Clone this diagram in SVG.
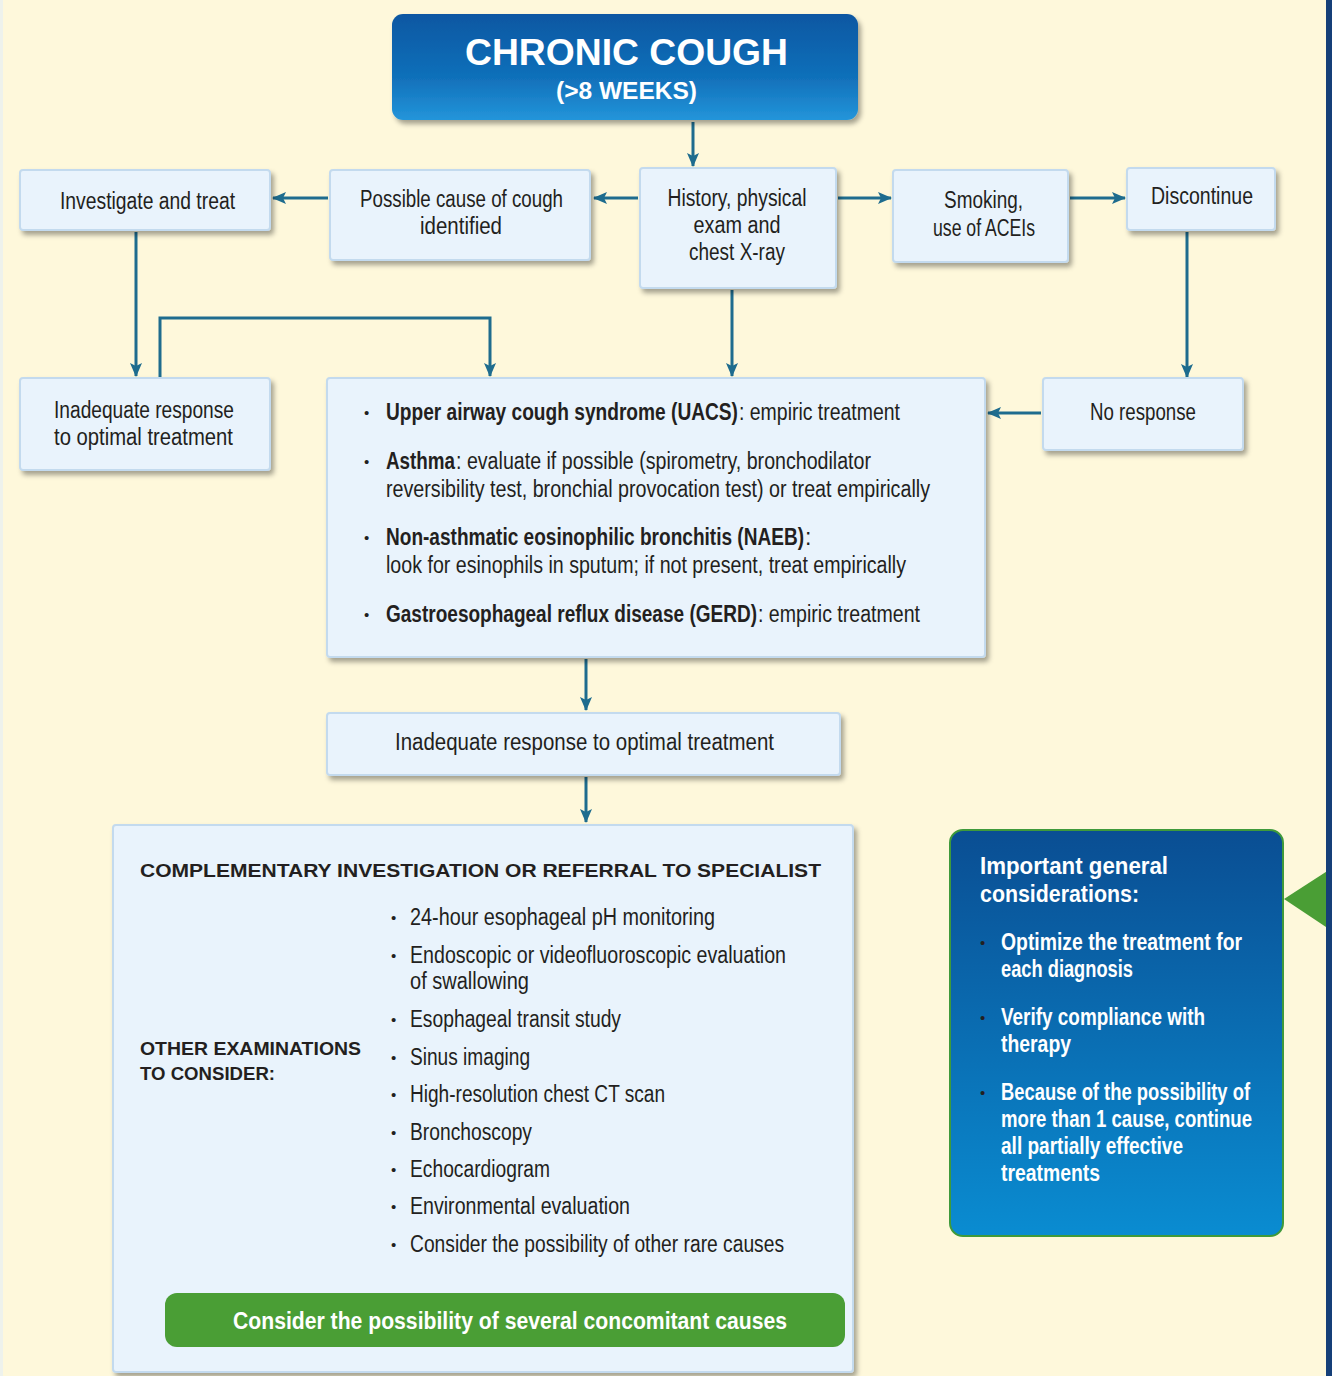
<svg xmlns="http://www.w3.org/2000/svg" width="1332" height="1376" viewBox="0 0 1332 1376">
<defs>
<filter id="sh" x="-10%" y="-10%" width="125%" height="135%">
<feDropShadow dx="3" dy="4" stdDeviation="2.5" flood-color="#000" flood-opacity="0.35"/>
</filter>
<linearGradient id="gTitle" x1="0" y1="0" x2="0" y2="1">
<stop offset="0" stop-color="#0A57A2"/>
<stop offset="0.6" stop-color="#1170BA"/>
<stop offset="1" stop-color="#2395DA"/>
</linearGradient>
<linearGradient id="gBlue" x1="0" y1="0" x2="0" y2="1">
<stop offset="0" stop-color="#0A4E93"/>
<stop offset="1" stop-color="#0A8CD1"/>
</linearGradient>
<marker id="ah" markerWidth="14" markerHeight="12" refX="13" refY="6" orient="auto" markerUnits="userSpaceOnUse">
<path d="M0,0 L14,6 L0,12 L3,6 z" fill="#1E6C8E"/>
</marker>
<style>
.box{fill:#E9F3FC;stroke:#C3DAEE;stroke-width:2;filter:url(#sh)}
.t{font-family:'Liberation Sans Narrow','Liberation Sans',Arial,sans-serif;font-size:23px;fill:#231F20}
.h{font-family:'Liberation Sans',Arial,sans-serif;font-weight:bold;fill:#231F20}
.c{text-anchor:middle}
.b{font-weight:bold}
.w{fill:#FFFFFF}
.bul{font-family:'Liberation Sans',Arial,sans-serif;font-size:15px;fill:#231F20}
.conn{stroke:#1E6C8E;stroke-width:3;fill:none;marker-end:url(#ah)}
</style>
</defs>
<rect x="0" y="0" width="1332" height="1376" fill="#FEF8DB"/>
<rect x="0" y="0" width="3" height="1376" fill="#EEF2EC"/>
<polygon points="1284,899 1332,868 1332,931" fill="#4A9E35"/>
<rect x="1326" y="0" width="6" height="1376" fill="#153F78"/>

<g id="connectors">
<line class="conn" x1="693" y1="122" x2="693" y2="166"/>
<line class="conn" x1="638" y1="198" x2="594" y2="198"/>
<line class="conn" x1="328" y1="198" x2="273" y2="198"/>
<line class="conn" x1="838" y1="198" x2="891" y2="198"/>
<line class="conn" x1="1070" y1="198" x2="1125" y2="198"/>
<line class="conn" x1="1187" y1="232" x2="1187" y2="377"/>
<line class="conn" x1="1041" y1="413" x2="988" y2="413"/>
<line class="conn" x1="136" y1="232" x2="136" y2="376"/>
<polyline class="conn" points="160,378 160,318 490,318 490,376"/>
<line class="conn" x1="732" y1="290" x2="732" y2="376"/>
<line class="conn" x1="586" y1="659" x2="586" y2="710"/>
<line class="conn" x1="586" y1="777" x2="586" y2="822"/>
</g>

<g id="title">
<rect x="392" y="14" width="466" height="106" rx="11" fill="url(#gTitle)" filter="url(#sh)"/>
<text class="h w c" x="626.5" y="65" font-size="37" textLength="323" lengthAdjust="spacingAndGlyphs">CHRONIC COUGH</text>
<text class="h w c" x="626.5" y="99" font-size="24" textLength="141" lengthAdjust="spacingAndGlyphs">(&gt;8 WEEKS)</text>
</g>

<g id="history">
<rect class="box" x="640" y="168" width="196" height="120" rx="3"/>
<text class="t c" x="737" y="206" textLength="139" lengthAdjust="spacingAndGlyphs">History, physical</text>
<text class="t c" x="737" y="233" textLength="87" lengthAdjust="spacingAndGlyphs">exam and</text>
<text class="t c" x="737" y="260" textLength="96" lengthAdjust="spacingAndGlyphs">chest X-ray</text>
</g>

<g id="possible-cause">
<rect class="box" x="330" y="170" width="260" height="90" rx="3"/>
<text class="t c" x="461.5" y="207" textLength="203" lengthAdjust="spacingAndGlyphs">Possible cause of cough</text>
<text class="t c" x="461" y="234" textLength="82" lengthAdjust="spacingAndGlyphs">identified</text>
</g>

<g id="investigate">
<rect class="box" x="20" y="170" width="250" height="60" rx="3"/>
<text class="t c" x="147.5" y="209" textLength="175" lengthAdjust="spacingAndGlyphs">Investigate and treat</text>
</g>

<g id="smoking">
<rect class="box" x="893" y="170" width="175" height="92" rx="3"/>
<text class="t c" x="983.5" y="208" textLength="79" lengthAdjust="spacingAndGlyphs">Smoking,</text>
<text class="t c" x="984" y="236" textLength="102" lengthAdjust="spacingAndGlyphs">use of ACEIs</text>
</g>

<g id="discontinue">
<rect class="box" x="1127" y="168" width="148" height="62" rx="3"/>
<text class="t c" x="1202" y="204" textLength="102" lengthAdjust="spacingAndGlyphs">Discontinue</text>
</g>

<g id="no-response">
<rect class="box" x="1043" y="378" width="200" height="72" rx="3"/>
<text class="t c" x="1143" y="420" textLength="106" lengthAdjust="spacingAndGlyphs">No response</text>
</g>

<g id="inadequate-left">
<rect class="box" x="20" y="378" width="250" height="92" rx="3"/>
<text class="t c" x="144" y="418" textLength="180" lengthAdjust="spacingAndGlyphs">Inadequate response</text>
<text class="t c" x="143.5" y="445" textLength="179" lengthAdjust="spacingAndGlyphs">to optimal treatment</text>
</g>

<g id="diagnoses">
<rect class="box" x="327" y="378" width="658" height="279" rx="3"/>
<text class="bul" x="364" y="418">•</text>
<text class="t b" x="386" y="420" textLength="352" lengthAdjust="spacingAndGlyphs">Upper airway cough syndrome (UACS)</text>
<text class="t" x="739" y="420" textLength="161" lengthAdjust="spacingAndGlyphs">: empiric treatment</text>
<text class="bul" x="364" y="467">•</text>
<text class="t b" x="386" y="469" textLength="69" lengthAdjust="spacingAndGlyphs">Asthma</text>
<text class="t" x="456" y="469" textLength="415" lengthAdjust="spacingAndGlyphs">: evaluate if possible (spirometry, bronchodilator</text>
<text class="t" x="386" y="497" textLength="544" lengthAdjust="spacingAndGlyphs">reversibility test, bronchial provocation test) or treat empirically</text>
<text class="bul" x="364" y="543">•</text>
<text class="t b" x="386" y="545" textLength="418" lengthAdjust="spacingAndGlyphs">Non-asthmatic eosinophilic bronchitis (NAEB)</text>
<text class="t" x="805" y="545">:</text>
<text class="t" x="386" y="573" textLength="520" lengthAdjust="spacingAndGlyphs">look for esinophils in sputum; if not present, treat empirically</text>
<text class="bul" x="364" y="620">•</text>
<text class="t b" x="386" y="622" textLength="371" lengthAdjust="spacingAndGlyphs">Gastroesophageal reflux disease (GERD)</text>
<text class="t" x="758" y="622" textLength="162" lengthAdjust="spacingAndGlyphs">: empiric treatment</text>
</g>

<g id="inadequate-middle">
<rect class="box" x="327" y="713" width="513" height="62" rx="3"/>
<text class="t c" x="584.5" y="750" textLength="379" lengthAdjust="spacingAndGlyphs">Inadequate response to optimal treatment</text>
</g>

<g id="complementary">
<rect class="box" x="113" y="825" width="740" height="547" rx="3"/>
<text class="h" x="140" y="877" font-size="19" textLength="681" lengthAdjust="spacingAndGlyphs">COMPLEMENTARY INVESTIGATION OR REFERRAL TO SPECIALIST</text>
<text class="h" x="140" y="1055" font-size="19" textLength="221" lengthAdjust="spacingAndGlyphs">OTHER EXAMINATIONS</text>
<text class="h" x="140" y="1080" font-size="19" textLength="135" lengthAdjust="spacingAndGlyphs">TO CONSIDER:</text>
<text class="bul" x="391" y="923">•</text>
<text class="t" x="410" y="925" textLength="305" lengthAdjust="spacingAndGlyphs">24-hour esophageal pH monitoring</text>
<text class="bul" x="391" y="961">•</text>
<text class="t" x="410" y="963" textLength="376" lengthAdjust="spacingAndGlyphs">Endoscopic or videofluoroscopic evaluation</text>
<text class="t" x="410" y="989" textLength="119" lengthAdjust="spacingAndGlyphs">of swallowing</text>
<text class="bul" x="391" y="1025">•</text>
<text class="t" x="410" y="1027" textLength="211" lengthAdjust="spacingAndGlyphs">Esophageal transit study</text>
<text class="bul" x="391" y="1063">•</text>
<text class="t" x="410" y="1065" textLength="120" lengthAdjust="spacingAndGlyphs">Sinus imaging</text>
<text class="bul" x="391" y="1100">•</text>
<text class="t" x="410" y="1102" textLength="255" lengthAdjust="spacingAndGlyphs">High-resolution chest CT scan</text>
<text class="bul" x="391" y="1138">•</text>
<text class="t" x="410" y="1140" textLength="122" lengthAdjust="spacingAndGlyphs">Bronchoscopy</text>
<text class="bul" x="391" y="1175">•</text>
<text class="t" x="410" y="1177" textLength="140" lengthAdjust="spacingAndGlyphs">Echocardiogram</text>
<text class="bul" x="391" y="1212">•</text>
<text class="t" x="410" y="1214" textLength="220" lengthAdjust="spacingAndGlyphs">Environmental evaluation</text>
<text class="bul" x="391" y="1250">•</text>
<text class="t" x="410" y="1252" textLength="374" lengthAdjust="spacingAndGlyphs">Consider the possibility of other rare causes</text>
</g>

<g id="concomitant">
<rect x="165" y="1293" width="680" height="54" rx="12" fill="#4A9E35"/>
<text class="t b w c" x="510" y="1329" textLength="554" lengthAdjust="spacingAndGlyphs">Consider the possibility of several concomitant causes</text>
</g>

<g id="considerations">
<rect x="950" y="830" width="333" height="406" rx="13" fill="url(#gBlue)" stroke="#3F9A3B" stroke-width="2"/>
<text class="t b w" x="980" y="874" textLength="188" lengthAdjust="spacingAndGlyphs">Important general</text>
<text class="t b w" x="980" y="902" textLength="159" lengthAdjust="spacingAndGlyphs">considerations:</text>
<text class="bul w" x="980" y="948">•</text>
<text class="t b w" x="1001" y="950" textLength="241" lengthAdjust="spacingAndGlyphs">Optimize the treatment for</text>
<text class="t b w" x="1001" y="977" textLength="132" lengthAdjust="spacingAndGlyphs">each diagnosis</text>
<text class="bul w" x="980" y="1023">•</text>
<text class="t b w" x="1001" y="1025" textLength="204" lengthAdjust="spacingAndGlyphs">Verify compliance with</text>
<text class="t b w" x="1001" y="1052" textLength="70" lengthAdjust="spacingAndGlyphs">therapy</text>
<text class="bul w" x="980" y="1098">•</text>
<text class="t b w" x="1001" y="1100" textLength="249" lengthAdjust="spacingAndGlyphs">Because of the possibility of</text>
<text class="t b w" x="1001" y="1127" textLength="251" lengthAdjust="spacingAndGlyphs">more than 1 cause, continue</text>
<text class="t b w" x="1001" y="1154" textLength="182" lengthAdjust="spacingAndGlyphs">all partially effective</text>
<text class="t b w" x="1001" y="1181" textLength="99" lengthAdjust="spacingAndGlyphs">treatments</text>
</g>
</svg>
